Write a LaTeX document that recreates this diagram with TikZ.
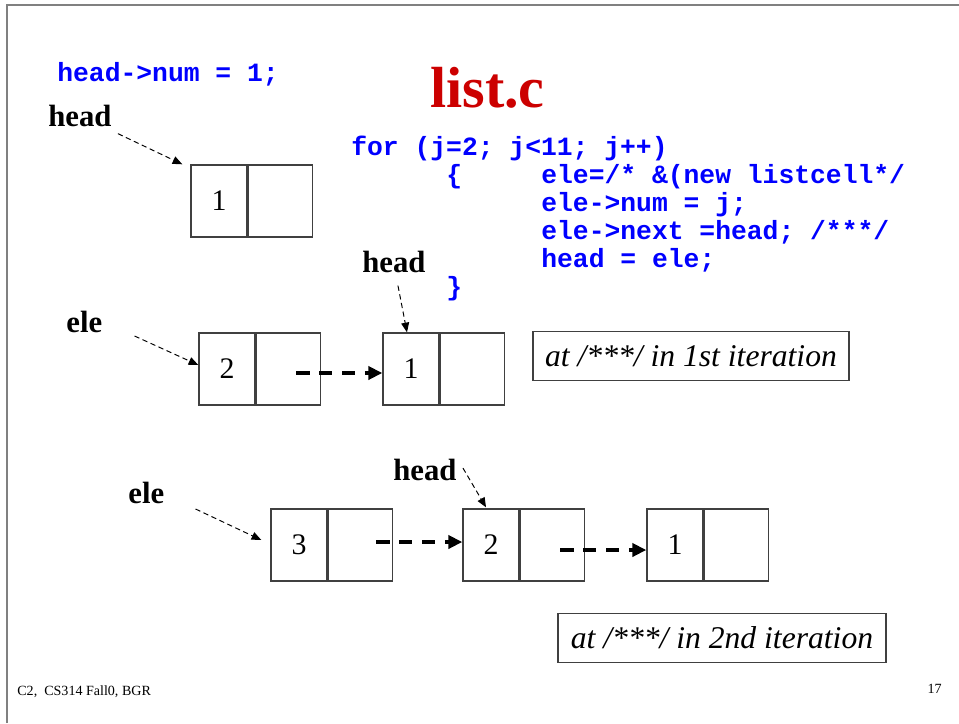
\documentclass[tikz,border=0pt]{standalone}
\usepackage{fontspec}
\setmainfont{Liberation Serif}
\newfontfamily\codefont{Liberation Mono}
\usetikzlibrary{arrows.meta}
\definecolor{codeblau}{RGB}{0,0,255}
\definecolor{titelrot}{RGB}{204,0,0}
\definecolor{rahmengrau}{RGB}{128,128,128}
\definecolor{liniengrau}{RGB}{64,64,64}
\tikzstyle{Feld}= [draw=liniengrau,line width=0.8pt,minimum width=1.12cm,minimum height=1.44cm,inner sep=0pt,font=\fontsize{17}{17}\selectfont]
\tikzstyle{Zeiger}= [draw=liniengrau,line width=0.8pt,minimum width=1.28cm,minimum height=1.44cm,inner sep=0pt,anchor=west]
\tikzstyle{Name}= [anchor=base west,inner sep=0pt,font=\fontsize{17.5}{17.5}\selectfont\bfseries]
\tikzstyle{Code}= [anchor=base west,inner sep=0pt,text=codeblau,font=\fontsize{15}{15}\selectfont\codefont\bfseries]
\tikzstyle{Hinweis}= [draw=liniengrau,line width=0.8pt,minimum height=0.98cm,inner sep=0pt,font=\fontsize{18}{18}\selectfont\itshape]
\tikzstyle{Pfeil}= [line width=0.55pt,dash pattern=on 3pt off 2pt,-{Triangle[length=5.5pt,width=4.5pt]}]
\tikzstyle{Verweis}= [line width=2.3pt,dash pattern=on 7.5pt off 5.5pt,-{Triangle[length=8pt,width=7.5pt]}]

\begin{document}
\begin{tikzpicture}[x=0.02cm,y=-0.02cm]

		\useasboundingbox (0,0) rectangle (959,723);
		\draw[rahmengrau,line width=1.1pt] (7,723) -- (7,5) -- (959,5);

		\node [Code] (q0) at (57,82) {head->num = 1;};
		\node [anchor=base west,inner sep=0pt,text=titelrot,font=\fontsize{33}{33}\selectfont\bfseries] (titel) at (430,108) {list.c};
		\node [Code] (q1) at (351,155) {for (j=2; j<11; j++)};
		\node [Code] (q2) at (446,183) {\{};
		\node [Code] (q3) at (541,183) {ele=/* \&(new listcell*/};
		\node [Code] (q4) at (541,211) {ele->num = j;};
		\node [Code] (q5) at (541,239) {ele->next =head; /***/};
		\node [Code] (q6) at (541,267) {head = ele;};
		\node [Code] (q7) at (446,295) {\}};

		\node [Feld] (a1) at (219,201) {1};
		\node [Zeiger] (a1z) at (a1.east) {};

		\node [Feld] (b2) at (227,369) {\raisebox{-0.18cm}{2}};
		\node [Zeiger] (b2z) at (b2.east) {};
		\node [Feld] (b1) at (411,369) {1};
		\node [Zeiger] (b1z) at (b1.east) {};

		\node [Feld] (c3) at (299,545) {3};
		\node [Zeiger] (c3z) at (c3.east) {};
		\node [Feld] (c2) at (491,545) {2};
		\node [Zeiger] (c2z) at (c2.east) {};
		\node [Feld] (c1) at (675,545) {1};
		\node [Zeiger] (c1z) at (c1.east) {};

		\node [Name] (h0) at (48,126) {head};
		\node [Name] (e1) at (66,332) {ele};
		\node [Name] (h1) at (362,272) {head};
		\node [Name] (e2) at (128,503) {ele};
		\node [Name] (h2) at (393,480) {head};

		\draw[Pfeil]
		([shift={(6,7)}]h0.south east) -- ([shift={(-8,0)}]a1.north west);
		\draw[Pfeil]
		([shift={(32,4)}]e1.base east) -- ([shift={(0,-4)}]b2.west);
		\draw[Pfeil]
		([shift={(4,13)}]h1.south) -- ([shift={(-4,0)}]b1.north);
		\draw[Pfeil]
		([shift={(31,6)}]e2.base east) -- ([shift={(-9,-5)}]c3.west);
		\draw[Pfeil]
		([shift={(6,-12)}]h2.base east) -- ([shift={(-5,-1)}]c2.north);

		\draw[Verweis]
		([shift={(8,4)}]b2z.center) -- ([shift={(0,4)}]b1.west);
		\draw[Verweis]
		([shift={(16,-3)}]c3z.center) -- ([shift={(0,-3)}]c2.west);
		\draw[Verweis]
		([shift={(8,5)}]c2z.center) -- ([shift={(0,5)}]c1.west);

		\node [Hinweis,minimum width=6.32cm] (t1) at (691,356) {at /***/ in 1st iteration};
		\node [Hinweis,minimum width=6.56cm] (t2) at (722,638) {at /***/ in 2nd iteration};

		\node [anchor=base west,inner sep=0pt,font=\fontsize{8}{8}\selectfont] (fuss) at (17,695) {C2,\ \ CS314 Fall0, BGR};
		\node [anchor=base east,inner sep=0pt,font=\fontsize{8}{8}\selectfont] (seite) at (942,693) {17};

	\end{tikzpicture}
\end{document}
